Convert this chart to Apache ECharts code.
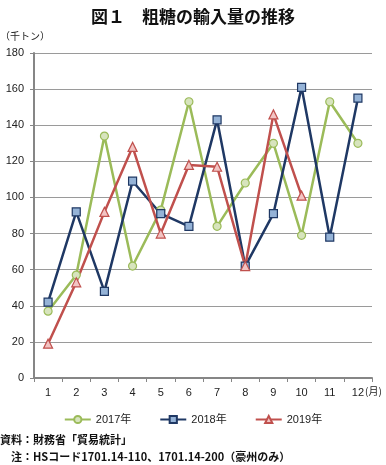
<!DOCTYPE html>
<html><head><meta charset="utf-8">
<script src="https://cdn.jsdelivr.net/npm/echarts@6/dist/echarts.min.js"></script>
<style>html,body{margin:0;padding:0;background:#fff;}#c{width:386px;height:465px;}</style>
</head><body><div id="c"></div>
<script>
const months = ['1','2','3','4','5','6','7','8','9','10','11','12'];
const yTicks = [0,20,40,60,80,100,120,140,160,180];
const s2017 = [37,57,134,62,93,153,84,108,130,79,153,130];
const s2018 = [42,92,48,109,91,84,143,62,91,161,78,155];
const s2019 = [19,53,92,128,80,118,117,62,146,101,null,null];
const seriesNames = ['2017年','2018年','2019年'];

const font = '"Liberation Sans", "Noto Sans CJK JP", sans-serif';
const chart = echarts.init(document.getElementById('c'), null, {renderer:'canvas'});
function mk(name, data, color, fill, symbol, size){
  return {name, type:'line', data, symbol, symbolSize:size, connectNulls:false,
    lineStyle:{color, width:2.5}, itemStyle:{color:fill, borderColor:color, borderWidth:1.2},
    emphasis:{disabled:true}, animation:false, z: 2};
}
chart.setOption({
  animation:false,
  textStyle:{fontFamily:font},
  title:{text:'図１　粗糖の輸入量の推移', left:'center', top:3,
    textStyle:{fontSize:17, fontWeight:'bold', color:'#111', fontFamily:'"Noto Sans CJK JP", sans-serif'}},
  grid:{left:34, right:14, top:53, bottom:87, containLabel:false},
  xAxis:{type:'category', data:months, boundaryGap:true,
    axisLine:{lineStyle:{color:'#868686', width:2}},
    axisTick:{show:true, alignWithLabel:false, length:4, lineStyle:{color:'#868686'}},
    axisLabel:{color:'#222', fontSize:11, margin:9}},
  yAxis:{type:'value', min:yTicks[0], max:yTicks[yTicks.length-1], interval:20,
    axisLine:{show:true, lineStyle:{color:'#868686', width:2}},
    axisTick:{show:true, length:4, lineStyle:{color:'#868686'}},
    splitLine:{lineStyle:{color:'#9a9a9a', width:1}},
    axisLabel:{color:'#222', fontSize:11, margin:10}},
  legend:{bottom:35, left:'center', itemWidth:26, itemHeight:9, itemGap:28,
    textStyle:{fontSize:11, color:'#222', fontFamily:font},
    data:seriesNames},
  series:[
    mk(seriesNames[0], s2017, '#9BBB59', '#D7E4BD', 'circle', 8),
    mk(seriesNames[1], s2018, '#1F3864', '#95B3D7', 'rect', 8),
    mk(seriesNames[2], s2019, '#C0504D', '#F2C4C3', 'triangle', 9)
  ],
  graphic:[
    {type:'text', left:0, top:31, style:{text:'（千トン）', fontSize:10, fill:'#222', fontFamily:'"Noto Sans CJK JP", sans-serif'}},
    {type:'text', left:365, top:386, style:{text:'(月)', fontSize:10, fill:'#222', fontFamily:'"Noto Sans CJK JP", sans-serif'}},
    {type:'text', left:0, top:434, style:{text:'資料：財務省「貿易統計」', fontSize:11, fontWeight:'bold', fill:'#111', fontFamily:'"Noto Sans CJK JP", sans-serif'}},
    {type:'text', left:0, top:451, style:{text:'　注：HSコード1701.14-110、1701.14-200（豪州のみ）', fontSize:11, fontWeight:'bold', fill:'#111', fontFamily:'"Noto Sans CJK JP", sans-serif'}}
  ]
});
</script></body></html>
